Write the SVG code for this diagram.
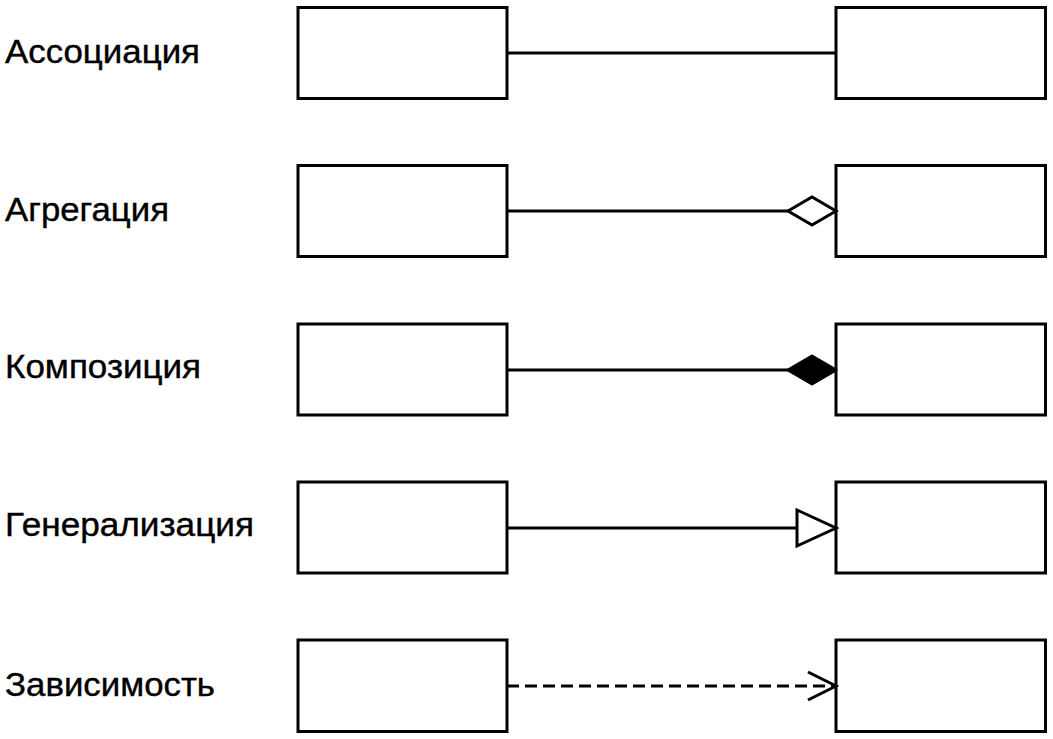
<svg xmlns="http://www.w3.org/2000/svg" width="1053" height="739" viewBox="0 0 1053 739">
<style>
.box{fill:#fff;stroke:#000;stroke-width:3}
.lbl{font-family:"Liberation Sans",Arial,sans-serif;font-size:34px;fill:#000;stroke:#000;stroke-width:0.4}
.ln{fill:none;stroke:#000;stroke-width:3}
</style>
<rect width="1053" height="739" fill="#fff"/>
<g id="labels">
<text class="lbl" x="5" y="63" textLength="195" lengthAdjust="spacingAndGlyphs">Ассоциация</text>
<text class="lbl" x="5" y="221" textLength="164" lengthAdjust="spacingAndGlyphs">Агрегация</text>
<text class="lbl" x="5" y="378" textLength="196" lengthAdjust="spacingAndGlyphs">Композиция</text>
<text class="lbl" x="5" y="536" textLength="249" lengthAdjust="spacingAndGlyphs">Генерализация</text>
<text class="lbl" x="5" y="696" textLength="210" lengthAdjust="spacingAndGlyphs">Зависимость</text>
</g>
<g id="row1-left"><rect class="box" x="298" y="7.5" width="209" height="91"/></g>
<g id="row1-right"><rect class="box" x="836" y="7.5" width="209.5" height="91"/></g>
<g id="row2-left"><rect class="box" x="298" y="165.5" width="209" height="91"/></g>
<g id="row2-right"><rect class="box" x="836" y="165.5" width="209.5" height="91"/></g>
<g id="row3-left"><rect class="box" x="298" y="324" width="209" height="91"/></g>
<g id="row3-right"><rect class="box" x="836" y="324" width="209.5" height="91"/></g>
<g id="row4-left"><rect class="box" x="298" y="482" width="209" height="91"/></g>
<g id="row4-right"><rect class="box" x="836" y="482" width="209.5" height="91"/></g>
<g id="row5-left"><rect class="box" x="298" y="640" width="209" height="91.5"/></g>
<g id="row5-right"><rect class="box" x="836" y="640" width="209.5" height="91.5"/></g>
<g id="connectors">
<line class="ln" x1="507" y1="53" x2="836" y2="53"/>
<line class="ln" x1="507" y1="211" x2="788" y2="211"/>
<polygon class="ln" points="788,211 812,197 836,211 812,225" fill="#fff"/>
<line class="ln" x1="507" y1="370" x2="788" y2="370"/>
<polygon points="788,370 812,356 836,370 812,384" fill="#000" stroke="#000" stroke-width="3" stroke-linejoin="round"/>
<line class="ln" x1="507" y1="528" x2="797" y2="528"/>
<polygon class="ln" points="797,510 836,528 797,546" fill="#fff"/>
<line class="ln" x1="507" y1="686" x2="834" y2="686" stroke-dasharray="12 6"/>
<polyline class="ln" points="808,672 836,686 808,700"/>
</g>
</svg>
